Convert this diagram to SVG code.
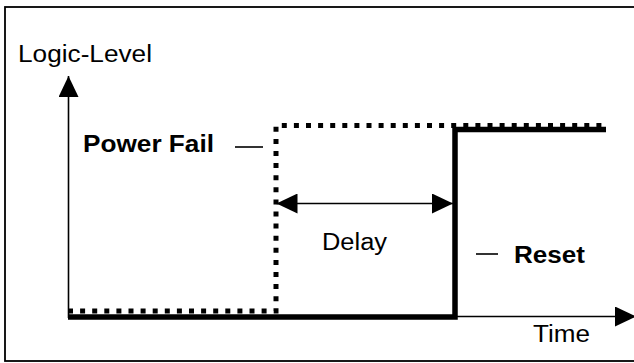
<svg xmlns="http://www.w3.org/2000/svg" width="634" height="363" viewBox="0 0 634 363">
<style>
.lbl{font-family:"Liberation Sans",Arial,sans-serif;font-size:23px;fill:#000}
.b{font-weight:bold}
.thin{stroke:#000;stroke-width:1.6;fill:none}
</style>
<defs>
<marker id="ah" viewBox="0 0 21 20" refX="21" refY="10" markerWidth="21" markerHeight="20" markerUnits="userSpaceOnUse" orient="auto-start-reverse">
<path d="M0,0 L21,10 L0,20 Z" fill="#000"/>
</marker>
</defs>
<rect width="634" height="363" fill="#fff"/>
<g id="frame"><rect x="5" y="7" width="640" height="354" fill="none" stroke="#000" stroke-width="1.8"/></g>
<g id="connectors">
<line id="y-axis" class="thin" x1="68.5" y1="318" x2="68.5" y2="76" marker-end="url(#ah)"/>
<line id="x-axis" class="thin" x1="68" y1="316.5" x2="636" y2="316.5" marker-end="url(#ah)"/>
<line id="delay-arrow" class="thin" x1="276.5" y1="203.5" x2="453" y2="203.5" marker-start="url(#ah)" marker-end="url(#ah)"/>
<line id="pf-leader" class="thin" x1="235" y1="147" x2="263" y2="147"/>
<line id="reset-leader" class="thin" x1="476" y1="254" x2="498" y2="254"/>
</g>
<g id="reset-signal"><path d="M68,317 H455 V129.5 H606" fill="none" stroke="#000" stroke-width="5.5" stroke-linejoin="miter"/></g>
<g id="power-fail-signal"><path d="M68,311 H276 V125.5 H606" fill="none" stroke="#000" stroke-width="5" stroke-dasharray="5 7.1"/></g>
<g id="label-logic-level"><text class="lbl" x="18" y="62" textLength="134" lengthAdjust="spacingAndGlyphs">Logic-Level</text></g>
<g id="label-power-fail"><text class="lbl b" x="83" y="152" textLength="131" lengthAdjust="spacingAndGlyphs">Power Fail</text></g>
<g id="label-delay"><text class="lbl" x="322" y="250" textLength="65" lengthAdjust="spacingAndGlyphs">Delay</text></g>
<g id="label-reset"><text class="lbl b" x="514" y="263" textLength="71" lengthAdjust="spacingAndGlyphs">Reset</text></g>
<g id="label-time"><text class="lbl" x="533" y="342" textLength="57" lengthAdjust="spacingAndGlyphs">Time</text></g>
</svg>
